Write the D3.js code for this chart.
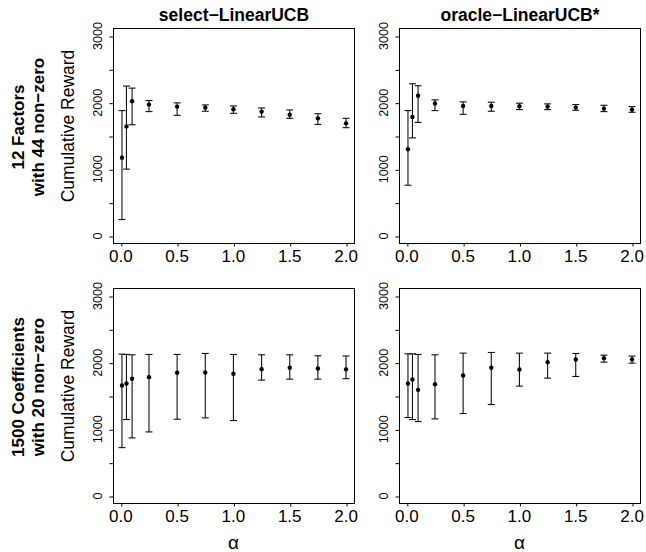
<!DOCTYPE html>
<html>
<head>
<meta charset="utf-8">
<script src="https://cdn.jsdelivr.net/npm/d3@7"></script>
<style>
  body { margin: 0; background: #fff; }
  text { font-family: "Liberation Sans", Arial, sans-serif; fill: #000; }
</style>
</head>
<body>
<script>
// ---------------- data ----------------
const alpha = [0.01, 0.05, 0.1, 0.25, 0.5, 0.75, 1.0, 1.25, 1.5, 1.75, 2.0];

// 12 factors, select-LinearUCB
const selFacMean = [1175, 1644, 2022, 1971, 1941, 1926, 1901, 1866, 1820, 1765, 1690];
const selFacLow  = [247, 1003, 1669, 1866, 1810, 1871, 1840, 1785, 1765, 1674, 1625];
const selFacHigh = [1881, 2249, 2218, 2032, 1997, 1966, 1951, 1921, 1891, 1835, 1765];

// 12 factors, oracle-LinearUCB*
const oraFacMean = [1301, 1785, 2103, 1987, 1951, 1951, 1946, 1941, 1926, 1911, 1896];
const oraFacLow  = [761, 1472, 1704, 1881, 1825, 1871, 1896, 1896, 1886, 1866, 1856];
const oraFacHigh = [1881, 2284, 2254, 2042, 2012, 2007, 1992, 1982, 1971, 1961, 1941];

// 1500 coefficients, select-LinearUCB
const selCoefMean = [1657, 1688, 1758, 1783, 1848, 1853, 1833, 1903, 1923, 1913, 1900];
const selCoefLow  = [726, 1147, 871, 961, 1152, 1172, 1132, 1738, 1753, 1753, 1760];
const selCoefHigh = [2128, 2123, 2118, 2123, 2123, 2138, 2123, 2118, 2118, 2103, 2100];

// 1500 coefficients, oracle-LinearUCB*
const oraCoefMean = [1688, 1748, 1592, 1678, 1808, 1923, 1898, 2008, 2048, 2068, 2048];
const oraCoefLow  = [1177, 1147, 1117, 1157, 1237, 1372, 1648, 1768, 1793, 2008, 1993];
const oraCoefHigh = [2133, 2133, 2123, 2118, 2143, 2153, 2143, 2143, 2138, 2113, 2098];

const colTitles = ['select\u2212LinearUCB', 'oracle\u2212LinearUCB*'];
const rowLabels = [['12 Factors', 'with 44 non\u2212zero'], ['1500 Coefficients', 'with 20 non\u2212zero']];
const xTicks = [0, 0.5, 1.0, 1.5, 2.0];
const yTicks = [0, 500, 1000, 1500, 2000, 2500, 3000];
const yLabelTicks = [0, 1000, 2000, 3000];

// ---------------- layout ----------------
const W = 646, H = 552;
const panelW = 242, panelH = 216;
const colX = [113, 399];
const rowY = [28, 288];

const svg = d3.select('body').append('svg').attr('width', W).attr('height', H);

// R style 4% axis expansion
const xExt = d3.extent(alpha);
const xPad = (xExt[1] - xExt[0]) * 0.04;
const x = d3.scaleLinear().domain([xExt[0] - xPad, xExt[1] + xPad]).range([0, panelW]);
const y = d3.scaleLinear().domain([-120, 3120]).range([panelH, 0]);

const panels = [
	{ r: 0, c: 0, mean: selFacMean, low: selFacLow, high: selFacHigh },
	{ r: 0, c: 1, mean: oraFacMean, low: oraFacLow, high: oraFacHigh },
	{ r: 1, c: 0, mean: selCoefMean, low: selCoefLow, high: selCoefHigh },
	{ r: 1, c: 1, mean: oraCoefMean, low: oraCoefLow, high: oraCoefHigh },
];

panels.forEach((p) => {
	const g = svg.append('g').attr('transform', `translate(${colX[p.c]},${rowY[p.r]})`);

	// box
	g.append('rect')
		.attr('x', 0.5).attr('y', 0.5)
		.attr('width', panelW - 1).attr('height', panelH - 1)
		.attr('fill', 'none').attr('stroke', '#000');

	// y axis ticks
	const ya = g.append('g').attr('transform', 'translate(0.5,0.5)')
		.call(d3.axisLeft(y).tickValues(yTicks).tickSize(4).tickSizeOuter(0).tickFormat(''));
	ya.select('.domain').remove();

	g.selectAll('.ylab')
		.data(yLabelTicks)
		.join('text')
		.attr('class', 'ylab')
		.attr('transform', (d) => `translate(-11,${y(d)}) rotate(-90)`)
		.attr('text-anchor', 'middle')
		.attr('font-size', 12.6)
		.text((d) => d);

	// x axis ticks
	const xa = g.append('g').attr('transform', `translate(0.5,${panelH - 0.5})`)
		.call(d3.axisBottom(x).tickValues(xTicks).tickSize(3).tickSizeOuter(0).tickFormat(''));
	xa.select('.domain').remove();

	g.selectAll('.xlab')
		.data(xTicks)
		.join('text')
		.attr('class', 'xlab')
		.attr('x', (d) => x(d))
		.attr('y', panelH + 18)
		.attr('text-anchor', 'middle')
		.attr('font-size', 17)
		.text((d) => d.toFixed(1));

	// error bars
	const rows = alpha.map((a, i) => ({ a, m: p.mean[i], lo: p.low[i], hi: p.high[i] }));
	const eb = g.append('g').attr('stroke', '#111').attr('stroke-width', 1.1).attr('fill', 'none');
	eb.selectAll('.stem').data(rows).join('line')
		.attr('x1', (d) => x(d.a)).attr('x2', (d) => x(d.a))
		.attr('y1', (d) => y(d.lo)).attr('y2', (d) => y(d.hi));
	eb.selectAll('.capHi').data(rows).join('line')
		.attr('x1', (d) => x(d.a) - 3.5).attr('x2', (d) => x(d.a) + 3.5)
		.attr('y1', (d) => y(d.hi)).attr('y2', (d) => y(d.hi));
	eb.selectAll('.capLo').data(rows).join('line')
		.attr('x1', (d) => x(d.a) - 3.5).attr('x2', (d) => x(d.a) + 3.5)
		.attr('y1', (d) => y(d.lo)).attr('y2', (d) => y(d.lo));

	g.append('g').selectAll('circle').data(rows).join('circle')
		.attr('cx', (d) => x(d.a)).attr('cy', (d) => y(d.m))
		.attr('r', 2.2).attr('fill', '#000');

	// column title on top row
	if (p.r === 0) {
		g.append('text')
			.attr('x', panelW / 2).attr('y', -7)
			.attr('text-anchor', 'middle')
			.attr('font-size', 17.5).attr('font-weight', 'bold')
			.text(colTitles[p.c]);
	}

	// x label on bottom row
	if (p.r === 1) {
		g.append('text')
			.attr('x', x(1.0)).attr('y', panelH + 45)
			.attr('text-anchor', 'middle')
			.attr('font-size', 19)
			.text('\u03b1');
	}

	// y label + row label on left column
	if (p.c === 0) {
		g.append('text')
			.attr('transform', `translate(-39,${panelH / 2 - 10}) rotate(-90)`)
			.attr('text-anchor', 'middle')
			.attr('font-size', 17.5)
			.text('Cumulative Reward');
		rowLabels[p.r].forEach((t, i) => {
			g.append('text')
				.attr('transform', `translate(${-89 + i * 19.5},${panelH / 2 - 9}) rotate(-90)`)
				.attr('text-anchor', 'middle')
				.attr('font-size', 17).attr('font-weight', 'bold')
				.text(t);
		});
	}
});
</script>
</body>
</html>
